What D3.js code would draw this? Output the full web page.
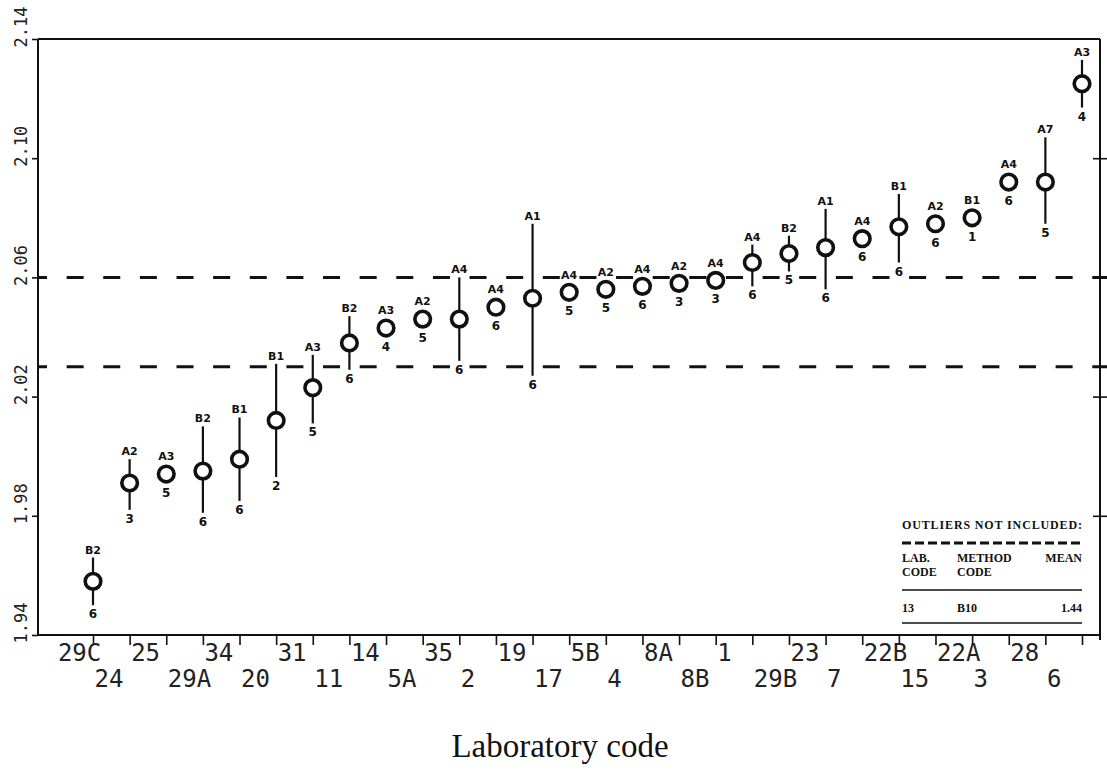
<!DOCTYPE html>
<html>
<head>
<meta charset="utf-8">
<script src="https://cdn.jsdelivr.net/npm/d3@7"></script>
<style>
  body { margin: 0; background: #fff; }
  svg { display: block; background: #fff; }
</style>
</head>
<body>
<svg id="chart" width="1107" height="776"></svg>
<script>
// labs, ordered by mean
const labCodes = ['29C', '24', '25', '29A', '34', '20', '31', '11', '14', '5A', '35', '2', '19', '17',
  '5B', '4', '8A', '8B', '1', '29B', '23', '7', '22B', '15', '22A', '3', '28', '6'];
const labMeans = [1.958, 1.991, 1.994, 1.995, 1.999, 2.012, 2.023, 2.038, 2.043, 2.046, 2.046, 2.050, 2.053, 2.055,
  2.056, 2.057, 2.058, 2.059, 2.065, 2.068, 2.070, 2.073, 2.077, 2.078, 2.080, 2.092, 2.092, 2.125];
// ends of the vertical bars (null = no bar drawn)
const barHigh = [1.966, 1.999, null, 2.010, 2.013, 2.031, 2.034, 2.047, 2.046, null, 2.060, null, 2.078, null,
  null, null, null, null, 2.071, 2.074, 2.083, null, 2.088, null, null, null, 2.107, 2.133];
const barLow = [1.950, 1.982, null, 1.981, 1.985, 1.993, 2.011, 2.029, 2.040, null, 2.032, null, 2.027, null,
  null, null, null, null, 2.057, 2.062, 2.056, null, 2.065, null, null, null, 2.078, 2.117];
const methodCodes = ['B2', 'A2', 'A3', 'B2', 'B1', 'B1', 'A3', 'B2', 'A3', 'A2', 'A4', 'A4', 'A1', 'A4',
  'A2', 'A4', 'A2', 'A4', 'A4', 'B2', 'A1', 'A4', 'B1', 'A2', 'B1', 'A4', 'A7', 'A3'];
const nResults = [6, 3, 5, 6, 6, 2, 5, 6, 4, 5, 6, 6, 6, 5, 5, 6, 3, 3, 6, 5, 6, 6, 6, 6, 1, 6, 5, 4];

const yTicks = [1.94, 1.98, 2.02, 2.06, 2.10, 2.14];
const refLines = [2.06, 2.03];

// outliers box
const outlierTitle = 'OUTLIERS NOT INCLUDED:';
const outlierHead1 = ['LAB.', 'METHOD', 'MEAN'];
const outlierHead2 = ['CODE', 'CODE', ''];
const outlierRow = ['13', 'B10', '1.44'];

const svg = d3.select('#chart');
const frame = {left: 38, right: 1100, top: 39, bottom: 635};
const circleR = 7.8;

const x = d3.scalePoint().domain(labCodes).range([93, 1082]);
const y = d3.scaleLinear().domain([1.94, 2.14]).range([frame.bottom, frame.top]);
const step = x.step();

const rows = labCodes.map((lab, i) => ({
  lab: lab,
  i: i,
  mean: labMeans[i],
  hi: barHigh[i],
  lo: barLow[i],
  method: methodCodes[i],
  n: nResults[i]
}));

// frame
const frameG = svg.append('g').attr('stroke', '#111').attr('stroke-width', 2).attr('fill', 'none');
frameG.append('line').attr('x1', frame.left).attr('x2', frame.right).attr('y1', frame.top).attr('y2', frame.top);
frameG.append('line').attr('x1', frame.left).attr('x2', frame.left).attr('y1', frame.top).attr('y2', frame.bottom);
frameG.append('line').attr('x1', frame.left).attr('x2', frame.right).attr('y1', frame.bottom).attr('y2', frame.bottom);
frameG.append('line').attr('x1', frame.right).attr('x2', frame.right).attr('y1', frame.top).attr('y2', frame.bottom + 5);

// left axis, labels turned on their side
const yAxisG = svg.append('g')
  .attr('transform', 'translate(' + frame.left + ',0)')
  .call(d3.axisLeft(y).tickValues(yTicks).tickSize(6).tickSizeOuter(0).tickFormat(d3.format('.2f')));
yAxisG.select('.domain').remove();
yAxisG.selectAll('line').attr('stroke', '#111').attr('stroke-width', 1.6);
yAxisG.selectAll('text')
  .attr('transform', 'rotate(-90)')
  .attr('x', -8)
  .attr('y', -11)
  .attr('dy', 0)
  .attr('text-anchor', 'start')
  .style('font-family', '"DejaVu Sans Mono", monospace')
  .style('font-size', '17px')
  .style('fill', '#222');

// right axis ticks cross the frame
[d3.axisRight, d3.axisLeft].forEach(function (ax) {
  const g = svg.append('g')
    .attr('transform', 'translate(' + frame.right + ',0)')
    .call(ax(y).tickValues(yTicks.slice(1, -1)).tickSize(7).tickFormat(''));
  g.select('.domain').remove();
  g.selectAll('line').attr('stroke', '#111').attr('stroke-width', 1.6);
});

// bottom axis, labels alternate on two rows
const xAxisG = svg.append('g')
  .attr('transform', 'translate(0,' + frame.bottom + ')')
  .call(d3.axisBottom(x).tickSize(10).tickSizeOuter(0));
xAxisG.select('.domain').remove();
xAxisG.selectAll('line').attr('stroke', '#111').attr('stroke-width', 1.6);
xAxisG.selectAll('text')
  .attr('x', -step + 1)
  .attr('y', (d, i) => i % 2 === 0 ? 26 : 52)
  .attr('dy', 0)
  .attr('text-anchor', 'start')
  .style('font-family', '"DejaVu Sans Mono", monospace')
  .style('font-size', '24px')
  .style('fill', '#222');

// reference band
svg.append('g').selectAll('line')
  .data(refLines)
  .enter().append('line')
  .attr('x1', frame.left)
  .attr('x2', 1107)
  .attr('y1', d => y(d))
  .attr('y2', d => y(d))
  .attr('stroke', '#111')
  .attr('stroke-width', 3)
  .attr('stroke-dasharray', '17,' + (step - 17))
  .attr('stroke-dashoffset', 8);

// bars
const pts = svg.append('g');
pts.selectAll('line.bar')
  .data(rows.filter(d => d.hi !== null))
  .enter().append('line')
  .attr('class', 'bar')
  .attr('x1', d => x(d.lab))
  .attr('x2', d => x(d.lab))
  .attr('y1', d => y(d.hi))
  .attr('y2', d => y(d.lo))
  .attr('stroke', '#111')
  .attr('stroke-width', 2.2);

// means
pts.selectAll('circle')
  .data(rows)
  .enter().append('circle')
  .attr('cx', d => x(d.lab))
  .attr('cy', d => y(d.mean))
  .attr('r', circleR)
  .attr('fill', '#fff')
  .attr('stroke', '#111')
  .attr('stroke-width', 3.6);

const outerR = circleR + 2;
const topY = d => Math.min(d.hi !== null ? y(d.hi) : y(d.mean), y(d.mean) - outerR) - 4;
const botY = d => Math.max(d.lo !== null ? y(d.lo) : y(d.mean), y(d.mean) + outerR) + 13;

pts.selectAll('text.method')
  .data(rows)
  .enter().append('text')
  .attr('class', 'method')
  .attr('x', d => x(d.lab))
  .attr('y', topY)
  .attr('text-anchor', 'middle')
  .style('font-family', '"DejaVu Sans", sans-serif')
  .style('font-weight', 'bold')
  .style('font-size', '11px')
  .style('fill', '#111')
  .text(d => d.method);

pts.selectAll('text.count')
  .data(rows)
  .enter().append('text')
  .attr('class', 'count')
  .attr('x', d => x(d.lab))
  .attr('y', botY)
  .attr('text-anchor', 'middle')
  .style('font-family', '"DejaVu Sans", sans-serif')
  .style('font-weight', 'bold')
  .style('font-size', '12px')
  .style('fill', '#111')
  .text(d => d.n);

// outliers box
const box = svg.append('g')
  .style('font-family', '"Liberation Serif", "Times New Roman", serif')
  .style('font-weight', 'bold')
  .style('font-size', '12px')
  .style('fill', '#111');
const boxL = 902, boxR = 1082;
const colX = [boxL, 957, boxR];
const colAnchor = ['start', 'start', 'end'];

box.append('text').attr('x', boxL).attr('y', 529).attr('textLength', boxR - boxL).text(outlierTitle);
box.append('line').attr('x1', boxL).attr('x2', boxR).attr('y1', 543).attr('y2', 543)
  .attr('stroke', '#111').attr('stroke-width', 3).attr('stroke-dasharray', '9,4');
[[outlierHead1, 562], [outlierHead2, 576], [outlierRow, 612]].forEach(function (r) {
  box.selectAll(null)
    .data(r[0])
    .enter().append('text')
    .attr('x', (d, i) => colX[i])
    .attr('y', r[1])
    .attr('text-anchor', (d, i) => colAnchor[i])
    .text(d => d);
});
[590, 623].forEach(function (ly) {
  box.append('line').attr('x1', boxL).attr('x2', boxR).attr('y1', ly).attr('y2', ly)
    .attr('stroke', '#111').attr('stroke-width', 1.6);
});

// axis title
svg.append('text')
  .attr('x', 560)
  .attr('y', 757)
  .attr('text-anchor', 'middle')
  .style('font-family', '"Liberation Serif", "Times New Roman", serif')
  .style('font-size', '33px')
  .style('fill', '#111')
  .text('Laboratory code');
</script>
</body>
</html>
